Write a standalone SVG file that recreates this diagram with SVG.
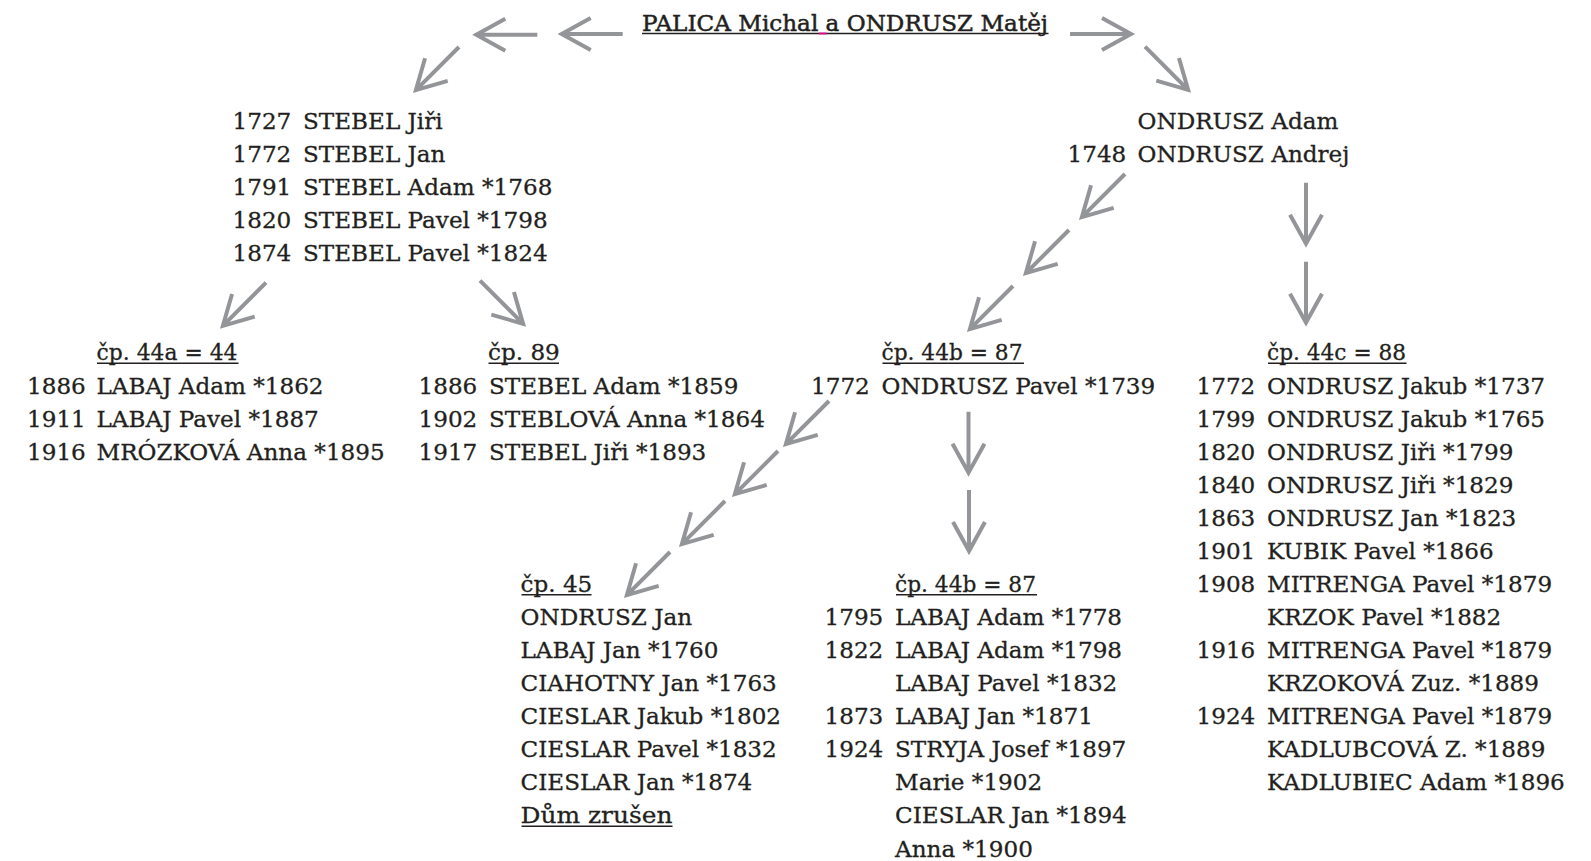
<svg xmlns="http://www.w3.org/2000/svg" xmlns:xlink="http://www.w3.org/1999/xlink" width="1591" height="861" viewBox="0 0 1591 861">
<style>
text{font-family:"DejaVu Serif","Liberation Serif",serif;font-size:23.1px;fill:#231f20;stroke:#231f20;stroke-width:0.3}
.title{font-size:23px;stroke-width:0.5}
.ul{stroke:#231f20;stroke-width:1.6}
.arrow{fill:none;stroke:#939598;stroke-width:4;stroke-linejoin:miter}
</style>
<defs>
<path id="arr" class="arrow" d="M0,0 H61 M32,-16 L61,0 L32,16"/>
</defs>
<rect width="1591" height="861" fill="#ffffff"/>

<g id="connectors">
<use xlink:href="#arr" transform="translate(622.7,34) rotate(180)"/>
<use xlink:href="#arr" transform="translate(537.3,34.7) rotate(180)"/>
<use xlink:href="#arr" transform="translate(459,47) rotate(135)"/>
<use xlink:href="#arr" transform="translate(1070,34) rotate(0)"/>
<use xlink:href="#arr" transform="translate(1145,46.7) rotate(45)"/>
<use xlink:href="#arr" transform="translate(266,282.7) rotate(135)"/>
<use xlink:href="#arr" transform="translate(480,280.7) rotate(45)"/>
<use xlink:href="#arr" transform="translate(1125,174) rotate(135)"/>
<use xlink:href="#arr" transform="translate(1069,230) rotate(135)"/>
<use xlink:href="#arr" transform="translate(1013,286) rotate(135)"/>
<use xlink:href="#arr" transform="translate(1306,182.7) rotate(90)"/>
<use xlink:href="#arr" transform="translate(1306,261.7) rotate(90)"/>
<use xlink:href="#arr" transform="translate(968.5,411.7) rotate(90)"/>
<use xlink:href="#arr" transform="translate(969,490) rotate(90)"/>
<use xlink:href="#arr" transform="translate(829,401) rotate(135)"/>
<use xlink:href="#arr" transform="translate(778,451) rotate(135)"/>
<use xlink:href="#arr" transform="translate(725,501) rotate(135)"/>
<use xlink:href="#arr" transform="translate(670,552) rotate(135)"/>
</g>

<g id="n-title">
<text class="title" x="642" y="30.7" textLength="406" lengthAdjust="spacingAndGlyphs">PALICA Michal a ONDRUSZ Matěj</text>
<line class="ul" x1="642" y1="33.5" x2="1048.5" y2="33.5"/>
<line x1="819" y1="33.5" x2="826.5" y2="33.5" stroke="#ec008c" stroke-width="1.8"/>
</g>

<g id="n-stebel">
<text y="129"><tspan x="232.5">1727</tspan><tspan x="303">STEBEL Jiři</tspan></text>
<text y="162"><tspan x="232.5">1772</tspan><tspan x="303">STEBEL Jan</tspan></text>
<text y="195.1"><tspan x="232.5">1791</tspan><tspan x="303">STEBEL Adam *1768</tspan></text>
<text y="228.2"><tspan x="232.5">1820</tspan><tspan x="303">STEBEL Pavel *1798</tspan></text>
<text y="261.3"><tspan x="232.5">1874</tspan><tspan x="303">STEBEL Pavel *1824</tspan></text>
</g>

<g id="n-ondrusz">
<text y="129"><tspan x="1137.5">ONDRUSZ Adam</tspan></text>
<text y="162"><tspan x="1067.5">1748</tspan><tspan x="1137.5">ONDRUSZ Andrej</tspan></text>
</g>

<g id="n-44a">
<text x="96.5" y="360.4" textLength="141" lengthAdjust="spacingAndGlyphs">čp. 44a = 44</text>
<line class="ul" x1="97" y1="363.2" x2="238.5" y2="363.2"/>
<text y="393.5"><tspan x="27">1886</tspan><tspan x="96.5">LABAJ Adam *1862</tspan></text>
<text y="426.6"><tspan x="27">1911</tspan><tspan x="96.5">LABAJ Pavel *1887</tspan></text>
<text y="459.6"><tspan x="27">1916</tspan><tspan x="96.5">MRÓZKOVÁ Anna *1895</tspan></text>
</g>

<g id="n-89">
<text x="488" y="360.4">čp. 89</text>
<line class="ul" x1="488.5" y1="363.2" x2="559" y2="363.2"/>
<text y="393.5"><tspan x="418.5">1886</tspan><tspan x="489">STEBEL Adam *1859</tspan></text>
<text y="426.6"><tspan x="418.5">1902</tspan><tspan x="489">STEBLOVÁ Anna *1864</tspan></text>
<text y="459.6"><tspan x="418.5">1917</tspan><tspan x="489">STEBEL Jiři *1893</tspan></text>
</g>

<g id="n-44b">
<text x="881.5" y="360.4" textLength="141" lengthAdjust="spacingAndGlyphs">čp. 44b = 87</text>
<line class="ul" x1="882.5" y1="363.2" x2="1024" y2="363.2"/>
<text y="393.5"><tspan x="811">1772</tspan><tspan x="881.5">ONDRUSZ Pavel *1739</tspan></text>
</g>

<g id="n-44c">
<text x="1267" y="360.4" textLength="139" lengthAdjust="spacingAndGlyphs">čp. 44c = 88</text>
<line class="ul" x1="1268" y1="363.2" x2="1406.5" y2="363.2"/>
<text y="393.5"><tspan x="1196.5">1772</tspan><tspan x="1267">ONDRUSZ Jakub *1737</tspan></text>
<text y="426.6"><tspan x="1196.5">1799</tspan><tspan x="1267">ONDRUSZ Jakub *1765</tspan></text>
<text y="459.6"><tspan x="1196.5">1820</tspan><tspan x="1267">ONDRUSZ Jiři *1799</tspan></text>
<text y="492.7"><tspan x="1196.5">1840</tspan><tspan x="1267">ONDRUSZ Jiři *1829</tspan></text>
<text y="525.8"><tspan x="1196.5">1863</tspan><tspan x="1267">ONDRUSZ Jan *1823</tspan></text>
<text y="558.9"><tspan x="1196.5">1901</tspan><tspan x="1267">KUBIK Pavel *1866</tspan></text>
<text y="591.9"><tspan x="1196.5">1908</tspan><tspan x="1267">MITRENGA Pavel *1879</tspan></text>
<text y="625"><tspan x="1267">KRZOK Pavel *1882</tspan></text>
<text y="658.1"><tspan x="1196.5">1916</tspan><tspan x="1267">MITRENGA Pavel *1879</tspan></text>
<text y="691.1"><tspan x="1267">KRZOKOVÁ Zuz. *1889</tspan></text>
<text y="724.2"><tspan x="1196.5">1924</tspan><tspan x="1267">MITRENGA Pavel *1879</tspan></text>
<text y="757.3"><tspan x="1267">KADLUBCOVÁ Z. *1889</tspan></text>
<text y="790.3"><tspan x="1267">KADLUBIEC Adam *1896</tspan></text>
</g>

<g id="n-45">
<text x="520.5" y="591.9">čp. 45</text>
<line class="ul" x1="521.5" y1="594.7" x2="591.5" y2="594.7"/>
<text x="520.5" y="625">ONDRUSZ Jan</text>
<text x="520.5" y="658.1">LABAJ Jan *1760</text>
<text x="520.5" y="691.1">CIAHOTNY Jan *1763</text>
<text x="520.5" y="724.2">CIESLAR Jakub *1802</text>
<text x="520.5" y="757.3">CIESLAR Pavel *1832</text>
<text x="520.5" y="790.3">CIESLAR Jan *1874</text>
<text x="520.5" y="823.4" textLength="152" lengthAdjust="spacingAndGlyphs">Dům zrušen</text>
<line class="ul" x1="521.5" y1="826.2" x2="672.5" y2="826.2"/>
</g>

<g id="n-44b-lower">
<text x="895" y="591.9" textLength="141" lengthAdjust="spacingAndGlyphs">čp. 44b = 87</text>
<line class="ul" x1="896" y1="594.7" x2="1037" y2="594.7"/>
<text y="625"><tspan x="824.5">1795</tspan><tspan x="895">LABAJ Adam *1778</tspan></text>
<text y="658.1"><tspan x="824.5">1822</tspan><tspan x="895">LABAJ Adam *1798</tspan></text>
<text y="691.1"><tspan x="895">LABAJ Pavel *1832</tspan></text>
<text y="724.2"><tspan x="824.5">1873</tspan><tspan x="895">LABAJ Jan *1871</tspan></text>
<text y="757.3"><tspan x="824.5">1924</tspan><tspan x="895">STRYJA Josef *1897</tspan></text>
<text y="790.3"><tspan x="895">Marie *1902</tspan></text>
<text y="823.4"><tspan x="895">CIESLAR Jan *1894</tspan></text>
<text y="856.5"><tspan x="895">Anna *1900</tspan></text>
</g>
</svg>
